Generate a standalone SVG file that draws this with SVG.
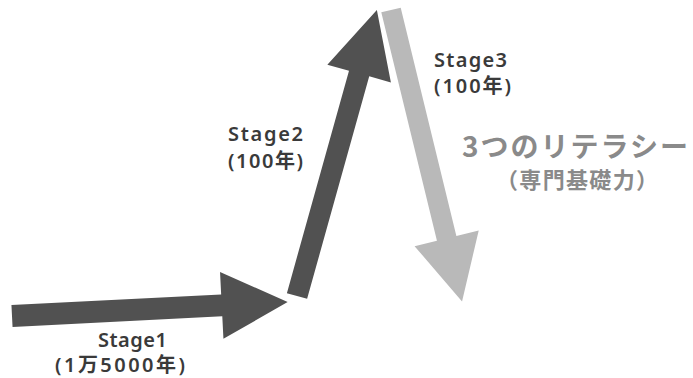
<svg xmlns="http://www.w3.org/2000/svg" width="693" height="378" viewBox="0 0 693 378">
<style>
.dark{fill:#515151}
.light{fill:#b9b9b9}
.lbl{font-family:"Noto Sans","Noto Sans CJK JP",sans-serif;font-weight:600;fill:#3a3a3a;font-size:20px}
.big{font-family:"Noto Sans CJK JP",sans-serif;font-weight:bold;fill:#8a8a8a}
</style>
<rect width="693" height="378" fill="#ffffff"/>
<g id="connectors">
<g id="arrow1"><polygon class="dark" transform="translate(12,316) rotate(-2.9)" points="0,-11 210,-11 210,-33.5 276,0 210,33.5 210,11 0,11"/></g>
<g id="arrow2"><polygon class="dark" transform="translate(297,296) rotate(-74.4)" points="0,-10.5 231,-10.5 231,-33 297,0 231,33 231,10.5 0,10.5"/></g>
<g id="arrow3"><polygon class="light" transform="translate(391,10) rotate(76.3)" points="0,-10 235,-10 235,-33 300,0 235,33 235,10 0,10"/></g>
</g>
<g id="stage1">
<text class="lbl" x="98" y="347" textLength="69" lengthAdjust="spacing">Stage1</text>
<text class="lbl" x="55" y="372" textLength="130" lengthAdjust="spacing">(1万5000年)</text>
</g>
<g id="stage2">
<text class="lbl" x="228" y="141" textLength="75" lengthAdjust="spacing">Stage2</text>
<text class="lbl" x="228" y="168" textLength="75" lengthAdjust="spacing">(100年)</text>
</g>
<g id="stage3">
<text class="lbl" x="434" y="67" textLength="73" lengthAdjust="spacing">Stage3</text>
<text class="lbl" x="434" y="93" textLength="77" lengthAdjust="spacing">(100年)</text>
</g>
<g id="literacy">
<text class="big" x="462" y="157" font-size="28" textLength="226" lengthAdjust="spacing">3つのリテラシー</text>
<text class="big" x="496" y="188" font-size="22" textLength="162" lengthAdjust="spacing">（専門基礎力）</text>
</g>
</svg>
